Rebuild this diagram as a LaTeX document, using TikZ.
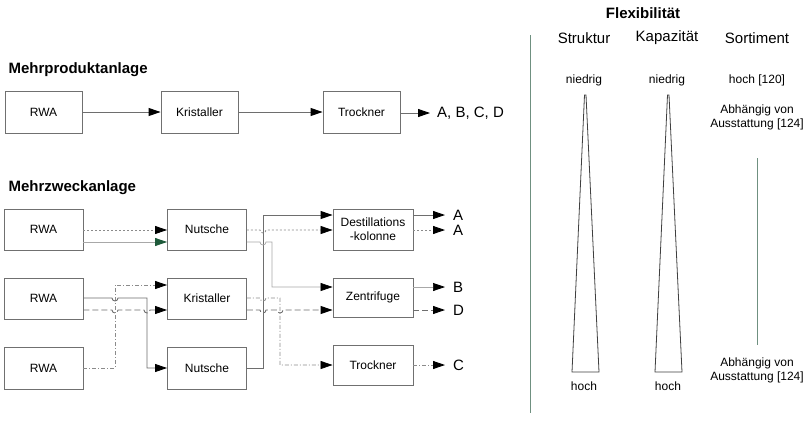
\documentclass[tikz,border=0pt]{standalone}
\usepackage{fontspec}
\setmainfont{Liberation Sans}
\usetikzlibrary{arrows.meta}
\definecolor{boxgray}{HTML}{707070}
\definecolor{linegray}{HTML}{6E6E6E}
\definecolor{lightline}{HTML}{A8A8A8}
\definecolor{sepgreen}{HTML}{6F9080}
\definecolor{tipgreen}{HTML}{1E5A3A}
\tikzset{
  unit/.style={draw=boxgray, line width=0.9pt, minimum width=79pt, minimum height=41pt,
    inner sep=1pt, align=center, font=\fontsize{12}{14}\selectfont},
  outlbl/.style={anchor=west, inner xsep=8pt, inner ysep=0pt, font=\fontsize{15}{17}\selectfont},
  head/.style={font=\bfseries\fontsize{15}{17}\selectfont},
  colhead/.style={font=\fontsize{15}{17}\selectfont},
  small/.style={font=\fontsize{12}{14}\selectfont, align=center},
  flow/.style={-{Triangle[length=12pt,width=8pt,color=black]}, line width=0.9pt},
  solidflow/.style={flow, draw=linegray},
  greyflow/.style={flow, draw=lightline, line width=0.7pt},
  dotflow/.style={flow, draw=linegray!80, line width=0.8pt, dash pattern=on 2pt off 2pt},
  dashflow/.style={flow, draw=linegray, dash pattern=on 6pt off 3pt},
  dotdashflow/.style={flow, draw=linegray!80, line width=0.8pt, dash pattern=on 4pt off 2pt on 1pt off 2pt},
  panel/.style={draw=sepgreen, line width=1pt},
}
\begin{document}
\begin{tikzpicture}[x=1pt,y=-1pt]
\useasboundingbox (0,0) rectangle (808,421);
\fill[white] (0,0) rectangle (808,421);

% ---------- Mehrproduktanlage ----------
\node[head, anchor=west] (t1) at (5,70) {Mehrproduktanlage};
\node[unit, minimum width=77pt, minimum height=42pt] (p1) at (43.5,112) {RWA};
\node[unit, minimum width=77pt, minimum height=42pt] (p2) at (199.5,112) {Kristaller};
\node[unit, minimum width=77pt, minimum height=42pt] (p3) at (361.5,112) {Trockner};
\node[outlbl, inner xsep=7pt] (pout) at (430,113) {A, B, C, D};
\draw[solidflow] (p1) -- (p2);
\draw[solidflow] (p2) -- (p3);
\draw[solidflow] (p3.east |- pout.west) -- (pout.west);

% ---------- Mehrzweckanlage ----------
\node[head, anchor=west] (t2) at (5,188) {Mehrzweckanlage};
\node[unit] (r1) at (43.5,229.5) {RWA};
\node[unit] (r2) at (43.5,298.5) {RWA};
\node[unit, minimum height=42pt] (r3) at (43.5,368) {RWA};
\node[unit] (n1) at (207,229.5) {Nutsche};
\node[unit] (k1) at (207,298.5) {Kristaller};
\node[unit, minimum height=42pt] (n2) at (207,368) {Nutsche};
\node[unit, minimum width=80pt] (d1) at (373,229.5) {Destillations\\-kolonne};
\node[unit, minimum width=80pt, minimum height=39pt] (z1) at (373,297.5) {Zentrifuge};
\node[unit, minimum width=80pt, minimum height=40pt] (tr) at (373,365) {Trockner};

\node[outlbl] (oA1) at (445,215) {A};
\node[outlbl] (oA2) at (445,230) {A};
\node[outlbl] (oB) at (445,287) {B};
\node[outlbl] (oD) at (445,310) {D};
\node[outlbl] (oC) at (445,365) {C};

% RWA 1 -> Nutsche
\draw[dotflow] (r1.east |- 0,230) -- (n1.west |- 0,230);
\draw[greyflow, -{Triangle[length=12pt,width=8pt,color=tipgreen]}]
  (r1.east |- 0,242) -- (n1.west |- 0,242);

% RWA 3 -> Kristaller (dash-dot, rising at x=115)
\draw[dotdashflow] (r3.east |- 0,368) -- (115,368) -- (115,285) -- (k1.west |- 0,285);
% RWA 2 -> Nutsche 2 (solid, hop over x=115)
\draw[solidflow] (r2.east |- 0,298) -- (112,298) arc[start angle=180,end angle=0,radius=3]
  -- (147,298) -- (147,368) -- (n2.west |- 0,368);
% RWA 2 -> Kristaller (dashed, hops over x=115 and x=147)
\draw[dashflow] (r2.east |- 0,310) -- (112,310) arc[start angle=180,end angle=0,radius=3]
  -- (144,310) arc[start angle=180,end angle=0,radius=3] -- (k1.west |- 0,310);

% Nutsche 2 -> Destillationskolonne (solid, riser at x=263)
\draw[solidflow] (n2.east |- 0,368) -- (263,368) -- (263,215) -- (d1.west |- 0,215);
% Nutsche 1 -> Destillationskolonne (dotted, hop over x=263)
\draw[dotflow] (n1.east |- 0,230) -- (260,230) arc[start angle=180,end angle=0,radius=3]
  -- (d1.west |- 0,230);
% Nutsche 1 -> Zentrifuge (thin grey, hop over x=263)
\draw[greyflow] (n1.east |- 0,242) -- (260,242) arc[start angle=180,end angle=0,radius=3]
  -- (272,242) -- (272,287) -- (z1.west |- 0,287);
% Kristaller -> Trockner (dash-dot, hop over x=263)
\draw[dotdashflow] (k1.east |- 0,298) -- (260,298) arc[start angle=180,end angle=0,radius=3]
  -- (280,298) -- (280,365) -- (tr.west |- 0,365);
% Kristaller -> Zentrifuge (dashed, hops over x=263 and x=280)
\draw[dashflow] (k1.east |- 0,310) -- (260,310) arc[start angle=180,end angle=0,radius=3]
  -- (277,310) arc[start angle=180,end angle=0,radius=3] -- (z1.west |- 0,310);

% products
\draw[solidflow] (d1.east |- oA1.west) -- (oA1.west);
\draw[dotflow] (d1.east |- oA2.west) -- (oA2.west);
\draw[greyflow] (z1.east |- oB.west) -- (oB.west);
\draw[dashflow] (z1.east |- oD.west) -- (oD.west);
\draw[dotdashflow] (tr.east |- oC.west) -- (oC.west);

% ---------- Flexibilität ----------
\coordinate (septop) at (530,35);
\coordinate (sepbot) at (530,413);
\draw[panel] (septop) -- (sepbot);

\node[head] (flex) at (643,13) {Flexibilität};
\node[colhead] (cS) at (584,38) {Struktur};
\node[colhead] (cK) at (667,38) {Kapazität};
\node[colhead] (cO) at (757,38) {Sortiment};

\node[small] (sLo) at (584,80) {niedrig};
\node[small] (kLo) at (667,80) {niedrig};
\node[small] (oHi) at (757,80) {hoch [120]};
\node[small] (sHi) at (584,386) {hoch};
\node[small] (kHi) at (668,386) {hoch};
\node[small] (oTop) at (757,117) {Abhängig von\\Ausstattung [124]};
\node[small] (oBot) at (757,370) {Abhängig von\\Ausstattung [124]};

% wedges
\draw[draw=black!75, line width=0.8pt] (584.5,95) -- (572,372) -- (599,372) -- (586,95) -- cycle;
\draw[draw=black!75, line width=0.8pt] (667.5,95) -- (655,372) -- (682,372) -- (669,95) -- cycle;
% Sortiment range
\coordinate (otop) at (757.5,158);
\coordinate (obot) at (757.5,345);
\draw[panel, line width=0.9pt] (otop) -- (obot);
\end{tikzpicture}
\end{document}
